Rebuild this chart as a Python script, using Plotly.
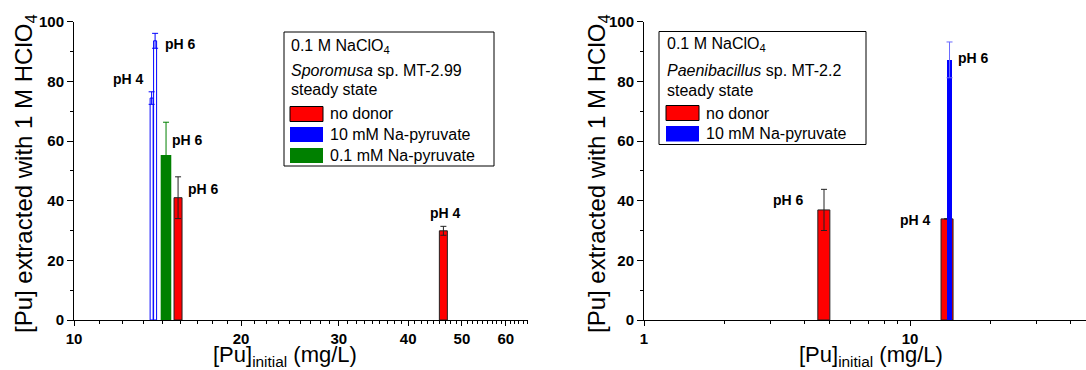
import math
import plotly.graph_objects as go

# ---- data -------------------------------------------------------------
# Sporomusa sp. MT-2.99 (left panel)
sporo_none_x = [15.4, 46.3]
sporo_none_y = [41.0, 29.9]
sporo_none_err = [7.0, 1.5]
sporo_none_ph = ["pH 6", "pH 4"]

sporo_pyr10_x = [13.8, 14.0]
sporo_pyr10_y = [74.4, 93.6]
sporo_pyr10_err = [2.1, 2.5]
sporo_pyr10_ph = ["pH 4", "pH 6"]

sporo_pyr01_x = [14.65]
sporo_pyr01_y = [55.3]
sporo_pyr01_err = [11.0]
sporo_pyr01_ph = ["pH 6"]

# Paenibacillus sp. MT-2.2 (right panel)
paeni_none_x = [4.75, 13.8]
paeni_none_y = [36.9, 33.9]
paeni_none_err = [6.9, None]
paeni_none_ph = ["pH 6", "pH 4"]

paeni_pyr10_x = [14.08]
paeni_pyr10_y = [87.2]
paeni_pyr10_err = [6.0]
paeni_pyr10_ph = ["pH 6"]

left_xticks = [10, 20, 30, 40, 50, 60]
right_xticks = [1, 10]
yticks = [0, 20, 40, 60, 80, 100]

# ---- layout geometry (pixels) ----------------------------------------
W, H = 1086, 370
L0, L1 = 74, 528          # left plot area
R0, R1 = 644, 1086        # right plot area
T, B = 21.7, 320          # top / bottom of both plot areas
PPD_L = 555.0             # pixels per decade, left x axis
PPD_R = 266.0             # pixels per decade, right x axis

FONT = "Arial, Liberation Sans, sans-serif"
RED, BLUE, GREEN = "#ff0000", "#0000ff", "#008000"
GRAY = "#7a7a7a"


def px(x):
    return x / W


def py(y):
    return 1 - y / H


def lin_width(xs, wpx, ppd):
    """Linear bar width that spans wpx pixels on a log axis."""
    h = wpx / (2 * ppd)
    return [x * (10 ** h - 10 ** -h) for x in xs]


fig = go.Figure()


def add_bars(xs, ys, errs, wpx, ppd, fill, line_color, line_w, err_color,
             name, xa, ya, err_thick=1):
    fig.add_trace(go.Bar(
        x=xs, y=ys, width=lin_width(xs, wpx, ppd), name=name,
        marker=dict(color=fill, line=dict(color=line_color, width=line_w)),
        error_y=dict(type="data", array=errs, visible=True, color=err_color,
                     thickness=err_thick, width=3),
        xaxis=xa, yaxis=ya, showlegend=False,
    ))


# left panel
add_bars(sporo_pyr10_x, sporo_pyr10_y, sporo_pyr10_err, 3, PPD_L,
         "white", BLUE, 1, BLUE, "10 mM Na-pyruvate", "x", "y")
add_bars(sporo_pyr01_x, sporo_pyr01_y, sporo_pyr01_err, 10.6, PPD_L,
         GREEN, GREEN, 0, GREEN, "0.1 mM Na-pyruvate", "x", "y")
add_bars(sporo_none_x, sporo_none_y, sporo_none_err, 8, PPD_L,
         RED, "#222222", 1, "#222222", "no donor", "x", "y")

# right panel
add_bars(paeni_none_x, paeni_none_y, paeni_none_err, 12, PPD_R,
         RED, "#222222", 1, "#222222", "no donor", "x2", "y2")
add_bars(paeni_pyr10_x, paeni_pyr10_y, paeni_pyr10_err, 5, PPD_R,
         BLUE, BLUE, 0, "#6a6aff", "10 mM Na-pyruvate", "x2", "y2")

# ---- axes -------------------------------------------------------------
def minor_between(majors, upper):
    vals = []
    for a, b in zip(majors[:-1], majors[1:]):
        vals += [a + k * (b - a) / 9 for k in range(1, 9)]
    return [v for v in vals if v < upper]


left_range = [1, 1 + (L1 - L0) / PPD_L]
right_range = [0, (R1 - R0) / PPD_R]
left_minor = minor_between(left_xticks + [70], 10 ** left_range[1])
right_minor = [2, 3, 4, 5, 6, 7, 8, 9, 20, 30, 40]

tickfont = dict(family=FONT, size=15, color="black", weight="bold")
ydom = [py(B), py(T)]

common_x = dict(type="log", showgrid=False, zeroline=False, tickmode="array",
                ticklen=5, tickcolor="black", tickwidth=1, automargin=False)
common_y = dict(range=[0, 100], tickvals=yticks, showgrid=False,
                zeroline=False, automargin=False, tickwidth=1)
y_minor_out = dict(tickvals=[10, 30, 50, 70, 90], ticks="outside",
                   ticklen=3, tickcolor="black", showgrid=False)
y_minor_in = dict(tickvals=[10, 30, 50, 70, 90], ticks="inside",
                  ticklen=3, tickcolor=GRAY, showgrid=False)

fig.update_layout(
    template="none",
    xaxis=dict(**common_x, domain=[px(L0), px(L1)], range=left_range,
               tickvals=left_xticks, ticktext=[str(v) for v in left_xticks],
               ticks="outside", showline=True, linecolor="black",
               tickfont=tickfont, anchor="y",
               minor=dict(tickvals=left_minor, ticks="outside", ticklen=3,
                          tickcolor="black", showgrid=False)),
    xaxis3=dict(**common_x, range=left_range, overlaying="x", side="top",
                anchor="y", tickvals=left_xticks, ticks="inside",
                showticklabels=False, showline=True, linecolor=GRAY,
                minor=dict(tickvals=left_minor, ticks="inside", ticklen=3,
                           tickcolor=GRAY, showgrid=False)),
    yaxis=dict(**common_y, domain=ydom, ticks="outside", ticklen=6,
               tickcolor="black", showline=True, linecolor="black",
               tickfont=tickfont, anchor="x", minor=y_minor_out),
    yaxis3=dict(**common_y, overlaying="y", side="right", anchor="x",
                ticks="inside", ticklen=5, tickcolor=GRAY,
                showticklabels=False, showline=True, linecolor=GRAY,
                minor=y_minor_in),
    xaxis2=dict(**common_x, domain=[px(R0), 1.0], range=right_range,
                tickvals=right_xticks, ticktext=["1", "10"],
                ticks="outside", showline=True, linecolor="black",
                tickfont=tickfont, anchor="y2",
                minor=dict(tickvals=right_minor, ticks="outside", ticklen=3,
                           tickcolor="black", showgrid=False)),
    xaxis4=dict(**common_x, range=right_range, overlaying="x2", side="top",
                anchor="y2", tickvals=right_xticks, ticks="inside",
                showticklabels=False, showline=True, linecolor=GRAY,
                minor=dict(tickvals=right_minor, ticks="inside", ticklen=3,
                           tickcolor=GRAY, showgrid=False)),
    yaxis2=dict(**common_y, domain=ydom, ticks="outside", ticklen=6,
                tickcolor="black", showline=True, linecolor="black",
                tickfont=tickfont, anchor="x2", minor=y_minor_out),
    barmode="overlay",
    width=W, height=H,
    margin=dict(l=0, r=0, t=0, b=0, pad=0),
    paper_bgcolor="white", plot_bgcolor="white",
    font=dict(family=FONT, color="black"),
    showlegend=False,
)

# ---- pH labels next to the bars --------------------------------------
def ph_labels(xs, ys, labels, shifts, xa, ya):
    for x, y, t, (dx, dy) in zip(xs, ys, labels, shifts):
        fig.add_annotation(x=math.log10(x), y=y, text=t, xref=xa, yref=ya,
                           showarrow=False, xshift=dx, yshift=dy,
                           xanchor="center", yanchor="middle",
                           font=dict(family=FONT, size=14, weight="bold"))


ph_labels(sporo_pyr10_x, sporo_pyr10_y, sporo_pyr10_ph,
          [(-23, 19), (25, -3)], "x", "y")
ph_labels(sporo_pyr01_x, sporo_pyr01_y, sporo_pyr01_ph, [(21, 15)], "x", "y")
ph_labels(sporo_none_x, sporo_none_y, sporo_none_ph,
          [(25, 9), (2, 18)], "x", "y")
ph_labels(paeni_none_x, paeni_none_y, paeni_none_ph,
          [(-36, 10), (-32, -1)], "x2", "y2")
ph_labels(paeni_pyr10_x, paeni_pyr10_y, paeni_pyr10_ph, [(24, 2)], "x2", "y2")

# ---- axis titles -----------------------------------------------------
ytitle = "[Pu] extracted with 1 M HClO<sub>4</sub>"
xtitle = "[Pu]<sub>initial</sub> (mg/L)"
for cx in (25, 598):
    fig.add_annotation(x=px(cx), y=py(174), xref="paper", yref="paper",
                       text=ytitle, textangle=-90, showarrow=False,
                       xanchor="center", yanchor="middle",
                       font=dict(family=FONT, size=24))
for cx in (285, 871):
    fig.add_annotation(x=px(cx), y=py(355.5), xref="paper", yref="paper",
                       text=xtitle, showarrow=False,
                       xanchor="center", yanchor="middle",
                       font=dict(family=FONT, size=22))

# ---- legend boxes ----------------------------------------------------
def legend_box(box, text_x, header_rows, items, sw_x, item_x):
    x0, y0, x1, y1 = box
    fig.add_shape(type="rect", xref="paper", yref="paper",
                  x0=px(x0), x1=px(x1), y0=py(y1), y1=py(y0),
                  line=dict(color="black", width=1), fillcolor="white",
                  layer="above")
    for text, yc in header_rows:
        fig.add_annotation(x=px(text_x), y=py(yc), xref="paper", yref="paper",
                           text=text, showarrow=False, xanchor="left",
                           yanchor="middle", font=dict(family=FONT, size=16))
    for text, color, outline, (ya, yb) in items:
        fig.add_shape(type="rect", xref="paper", yref="paper",
                      x0=px(sw_x[0]), x1=px(sw_x[1]), y0=py(yb), y1=py(ya),
                      fillcolor=color, layer="above",
                      line=dict(color=outline, width=1 if outline else 0))
        fig.add_annotation(x=px(item_x), y=py((ya + yb) / 2), xref="paper",
                           yref="paper", text=text, showarrow=False,
                           xanchor="left", yanchor="middle",
                           font=dict(family=FONT, size=16))


legend_box((284, 32, 494, 166), 289,
           [("0.1 M NaClO<sub>4</sub>", 46),
            ("<i>Sporomusa</i> sp. MT-2.99", 70),
            ("steady state", 90)],
           [("no donor", RED, "black", (106.5, 121.5)),
            ("10 mM Na-pyruvate", BLUE, None, (127, 142)),
            ("0.1 mM Na-pyruvate", GREEN, None, (148, 163))],
           (290, 323), 328)

legend_box((659, 31.5, 866, 144.5), 665,
           [("0.1 M NaClO<sub>4</sub>", 45),
            ("<i>Paenibacillus</i> sp. MT-2.2", 70),
            ("steady state", 90.5)],
           [("no donor", RED, "black", (105.5, 120.5)),
            ("10 mM Na-pyruvate", BLUE, None, (126, 141.5))],
           (666, 699), 704)

fig.write_html("out.html")
